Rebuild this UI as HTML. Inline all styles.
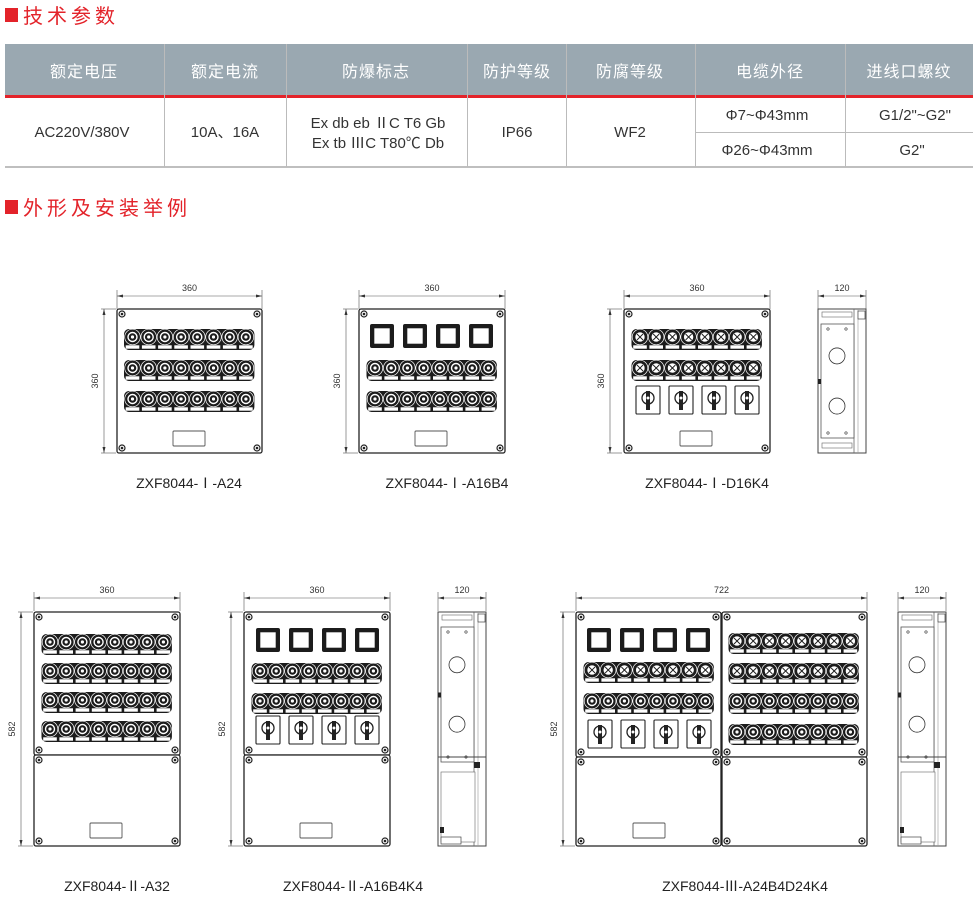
<!DOCTYPE html>
<html><head><meta charset="utf-8">
<style>
html,body{margin:0;padding:0;background:#fff;width:973px;height:921px;overflow:hidden}
svg{display:block}
text{font-family:"Liberation Sans","Noto Sans CJK SC",sans-serif}
</style></head>
<body>
<svg id="s" width="973" height="921" viewBox="0 0 973 921" xmlns="http://www.w3.org/2000/svg">
<rect x="5" y="8" width="13" height="14" fill="#e3232a"/>
<text x="23" y="23" font-size="20" fill="#e3232a" letter-spacing="4">技术参数</text>
<rect x="5" y="200" width="13" height="14" fill="#e3232a"/>
<text x="23" y="215" font-size="20" fill="#e3232a" letter-spacing="4">外形及安装举例</text>
<rect x="5" y="44" width="968" height="51" fill="#9aa8b1"/>
<rect x="5" y="95" width="968" height="3" fill="#e3232a"/>
<line x1="5" y1="167" x2="973" y2="167" stroke="#999" stroke-width="1.2"/>
<g stroke="#bbb" stroke-width="1">
<line x1="164.5" y1="44" x2="164.5" y2="167"/><line x1="286.5" y1="44" x2="286.5" y2="167"/>
<line x1="467.5" y1="44" x2="467.5" y2="167"/><line x1="566.5" y1="44" x2="566.5" y2="167"/>
<line x1="695.5" y1="44" x2="695.5" y2="167"/><line x1="845.5" y1="44" x2="845.5" y2="167"/>
<line x1="695" y1="132.5" x2="973" y2="132.5"/>
</g>
<g font-size="16" fill="#fff" text-anchor="middle" letter-spacing="1">
<text x="84" y="77">额定电压</text><text x="225" y="77">额定电流</text><text x="376" y="77">防爆标志</text>
<text x="517" y="77">防护等级</text><text x="630" y="77">防腐等级</text><text x="770" y="77">电缆外径</text><text x="909" y="77">进线口螺纹</text>
</g>
<g font-size="15" fill="#333" text-anchor="middle">
<text x="82" y="137">AC220V/380V</text><text x="225" y="137">10A、16A</text>
<text x="378" y="128">Ex db eb ⅡC T6 Gb</text><text x="378" y="148">Ex tb ⅢC T80℃ Db</text>
<text x="517" y="137">IP66</text><text x="630" y="137">WF2</text>
<text x="767" y="120">Φ7~Φ43mm</text><text x="767" y="155">Φ26~Φ43mm</text>
<text x="915" y="120">G1/2"~G2"</text><text x="912" y="155">G2"</text>
</g>
<g font-size="14" fill="#222" text-anchor="middle">
<text x="189" y="488">ZXF8044-Ⅰ-A24</text>
<text x="447" y="488">ZXF8044-Ⅰ-A16B4</text>
<text x="707" y="488">ZXF8044-Ⅰ-D16K4</text>
<text x="117" y="891">ZXF8044-Ⅱ-A32</text>
<text x="353" y="891">ZXF8044-Ⅱ-A16B4K4</text>
<text x="745" y="891">ZXF8044-Ⅲ-A24B4D24K4</text>
</g>
<g id="d"></g>
</svg>
<script>
var g=document.getElementById('d'),h='';
function R(x,y,w,hh,f,s,sw,rx){h+='<rect x="'+x+'" y="'+y+'" width="'+w+'" height="'+hh+'" fill="'+(f||'none')+'" stroke="'+(s||'none')+'" stroke-width="'+(sw||1)+'" rx="'+(rx||0)+'"/>';}
function C(x,y,r,f,s,sw){h+='<circle cx="'+x+'" cy="'+y+'" r="'+r+'" fill="'+(f||'none')+'" stroke="'+(s||'none')+'" stroke-width="'+(sw||1)+'"/>';}
function L(a,b,c,d,s,w){h+='<line x1="'+a+'" y1="'+b+'" x2="'+c+'" y2="'+d+'" stroke="'+(s||'#333')+'" stroke-width="'+(w||0.8)+'"/>';}
function T(x,y,t,rot){h+='<text x="'+x+'" y="'+y+'" font-size="9" fill="#333" text-anchor="middle"'+(rot?' transform="rotate(-90 '+x+' '+y+')"':'')+'>'+t+'</text>';}
function screw(x,y){C(x,y,3,'#fff','#222',1.2);C(x,y,1.3,'#222');}
function panel(x,y,w,hh){R(x,y,w,hh,'#fff','#222',1.3,2);screw(x+5,y+5);screw(x+w-5,y+5);screw(x+5,y+hh-5);screw(x+w-5,y+hh-5);}
function row(x0,cy,type){
 var sp=16.2;R(x0-8.5,cy-8,sp*7+17,21,'#1c1c1c','none',1,5);
 for(var i=0;i<8;i++){var x=x0+i*sp;C(x,cy,7.8,'#1c1c1c','#fff',0.7);
  if(type=='x'){C(x,cy,5,'#fff','#1c1c1c',0.6);L(x-3,cy-3,x+3,cy+3,'#1c1c1c',0.9);L(x-3,cy+3,x+3,cy-3,'#1c1c1c',0.9);}
  else{C(x,cy,5.2,'#fff');C(x,cy,3.8,'#1c1c1c');C(x,cy,1.6,'#fff');}
  R(x-6.8,cy+8.3,13.6,3.4,'#fff');}
}
function squares(x0,y){for(var i=0;i<4;i++){var x=x0+i*33;R(x,y,24,24,'#1c1c1c','none',1,2);R(x+4,y+4,16,16,'#fff','#1c1c1c',0.6);}}
function switches(x0,y){for(var i=0;i<4;i++){var x=x0+i*33;R(x,y,24,28,'#fff','#222',1.1,1);C(x+12,y+12,6,'#fff','#222',1.3);R(x+10,y+5,4,19,'#222');C(x+12,y+12,1.5,'#fff');}}
function plate(x,y){R(x,y,32,15,'#fff','#555',0.9,1);}
function hdim(x1,x2,y,t){L(x1,y-6,x1,y+13,'#555',0.6);L(x2,y-6,x2,y+13,'#555',0.6);L(x1,y,x2,y,'#555',0.6);
 h+='<path d="M'+x1+' '+y+'l6 -1.5v3z M'+x2+' '+y+'l-6 -1.5v3z" fill="#333"/>';T((x1+x2)/2,y-5,t);}
function vdim(x,y1,y2,t){L(x-3,y1,x+12,y1,'#555',0.6);L(x-3,y2,x+12,y2,'#555',0.6);L(x,y1,x,y2,'#555',0.6);
 h+='<path d="M'+x+' '+y1+'l-1.5 6h3z M'+x+' '+y2+'l-1.5 -6h3z" fill="#333"/>';T(x-6,(y1+y2)/2,t,1);}
function side(x,y,hh,tall){
 R(x,y,48,hh,'#fff','#444',1);L(x+36,y,x+36,y+hh,'#666',0.8);L(x+40,y,x+40,y+hh,'#999',0.6);
 R(x+4,y+3,30,5,'#fff','#666',0.6);R(x+4,y+hh-10,30,5,'#fff','#666',0.6);R(x+40,y+2,7,8,'#fff','#444',0.7);
 var ih=tall?135:hh-30;R(x+3,y+15,33,ih,'#fff','#555',0.8);
 C(x+19,y+15+ih*0.28,8,'#fff','#333',0.8);C(x+19,y+15+ih*0.72,8,'#fff','#333',0.8);
 C(x+10,y+20,1.2,'none','#333',0.6);C(x+28,y+20,1.2,'none','#333',0.6);C(x+10,y+10+ih,1.2,'none','#333',0.6);C(x+28,y+10+ih,1.2,'none','#333',0.6);
 R(x,y+15+ih*0.5-2,3,5,'#222');
 if(tall){L(x,y+145,x+48,y+145,'#444',1);R(x+3,y+160,34,70,'#fff','#666',0.6);R(x+36,y+150,6,6,'#222');R(x+2,y+215,4,6,'#222');R(x+3,y+hh-9,20,7,'#fff','#444',0.7);}
}
hdim(117,262,296,'360');vdim(104,309,453,'360');panel(117,309,145,144);
row(132.5,337);row(132.5,368);row(132.5,399);plate(173,431);
hdim(359,505,296,'360');vdim(346,309,453,'360');panel(359,309,146,144);
squares(370,324);row(375,368);row(375,399);plate(415,431);
hdim(624,770,296,'360');vdim(610,309,453,'360');panel(624,309,146,144);
row(640,337,'x');row(640,368,'x');switches(636,386);plate(680,431);
hdim(818,866,296,'120');side(818,309,144,false);
hdim(34,180,598,'360');vdim(21,612,846,'582');panel(34,612,146,143);panel(34,755,146,91);
row(50,642);row(50,671);row(50,700);row(50,729);plate(90,823);
hdim(244,390,598,'360');vdim(231,612,846,'582');panel(244,612,146,143);panel(244,755,146,91);
squares(256,628);row(260,671);row(260,701);switches(256,716);plate(300,823);
hdim(438,486,598,'120');side(438,612,234,true);
hdim(576,867,598,'722');vdim(563,612,846,'582');
panel(576,612,145,145);panel(722,612,145,145);panel(576,757,145,89);panel(722,757,145,89);
squares(587,628);row(592,670,'x');row(592,701);switches(588,720);
row(737,641,'x');row(737,671,'x');row(737,701);row(737,732);plate(633,823);
hdim(898,946,598,'120');side(898,612,234,true);
g.innerHTML=h;
</script>
</body></html>
